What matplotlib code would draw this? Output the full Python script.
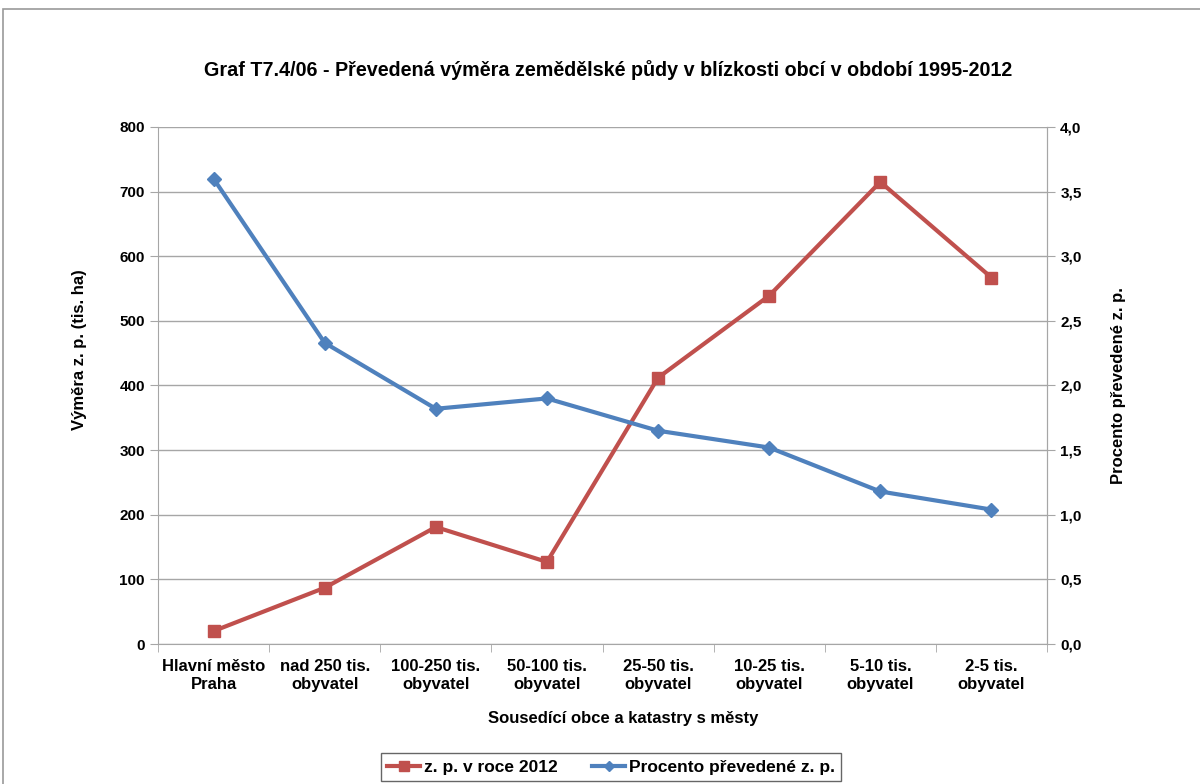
import numpy as np
import matplotlib.pyplot as plt
from matplotlib.patches import Rectangle

plt.rcParams['font.family'] = ['Liberation Sans', 'DejaVu Sans']
plt.rcParams['font.weight'] = 'bold'

categories = ["Hlavní město\nPraha", "nad 250 tis.\nobyvatel", "100-250 tis.\nobyvatel",
              "50-100 tis.\nobyvatel", "25-50 tis.\nobyvatel", "10-25 tis.\nobyvatel",
              "5-10 tis.\nobyvatel", "2-5 tis.\nobyvatel"]
vymera_2012 = [20, 87, 181, 127, 412, 539, 715, 567]
procento = [3.60, 2.33, 1.82, 1.90, 1.65, 1.52, 1.18, 1.04]

red = "#C0504D"
blue = "#4F81BD"
grid_c = "#A6A6A6"


def main():
    fig = plt.figure(figsize=(12, 7.84), dpi=100)
    fig.patches.append(Rectangle((0.0025, -0.01), 1.2, 0.998, transform=fig.transFigure,
                                 fill=False, edgecolor="#9A9A9A", linewidth=1.2))
    ax = fig.add_axes([158 / 1200, 1 - 644 / 784, (1047 - 158) / 1200, (644 - 127) / 784])
    ax2 = ax.twinx()

    x = np.arange(len(categories))
    l1, = ax.plot(x, vymera_2012, color=red, linewidth=3, marker="s", markersize=9,
                  label="z. p. v roce 2012", zorder=3)
    l2, = ax2.plot(x, procento, color=blue, linewidth=3, marker="D", markersize=7,
                   label="Procento převedené z. p.", zorder=3)

    ax.set_xlim(-0.5, len(categories) - 0.5)
    ax.set_ylim(0, 800)
    ax.set_yticks(np.arange(0, 801, 100))
    ax2.set_ylim(0, 4)
    ax2.set_yticks(np.arange(0, 4.01, 0.5))
    ax2.set_yticklabels([f"{v:.1f}".replace(".", ",") for v in np.arange(0, 4.01, 0.5)])

    ax.set_xticks(x)
    ax.set_xticklabels(categories, fontsize=12, fontweight="bold")
    ax.set_xticks(np.arange(-0.5, len(categories), 1), minor=True)
    ax.tick_params(axis="x", which="major", length=0, pad=11)
    ax.tick_params(axis="x", which="minor", length=6, color=grid_c)
    ax.tick_params(axis="y", length=6, color=grid_c, labelsize=11)
    ax2.tick_params(axis="y", length=6, color=grid_c, labelsize=11)
    for lab in ax.get_yticklabels() + ax2.get_yticklabels():
        lab.set_fontweight("bold")

    ax.grid(True, axis="y", color=grid_c, linewidth=1)
    ax.set_axisbelow(True)
    for a in (ax, ax2):
        a.spines["top"].set_visible(False)
        a.spines["left"].set_color(grid_c)
        a.spines["right"].set_color(grid_c)
        a.spines["bottom"].set_color(grid_c)
    ax2.spines["left"].set_visible(False)
    ax2.spines["bottom"].set_visible(False)

    # axis titles placed like in the Excel original
    ax.set_ylabel("Výměra z. p. (tis. ha)", fontsize=12, fontweight="bold", va="center")
    ax.yaxis.set_label_coords(-0.088, 0.569)
    ax2.set_ylabel("Procento převedené z. p.", fontsize=12, fontweight="bold", va="center")
    ax2.yaxis.set_label_coords(1.080, 0.5)
    ax.set_xlabel("Sousedící obce a katastry s městy", fontsize=12, fontweight="bold", va="center")
    ax.xaxis.set_label_coords(0.523, -0.145)

    fig.text(0.507, 1 - 70 / 784, "Graf T7.4/06 - Převedená výměra zemědělské půdy v blízkosti obcí v období 1995-2012",
             ha="center", va="center", fontsize=14.2, fontweight="bold")

    leg = fig.legend(handles=[l1, l2], loc="center", bbox_to_anchor=(611 / 1200, 1 - 767 / 784),
                     ncol=2, fontsize=12.5, frameon=True, fancybox=False, handlelength=1.9,
                     handletextpad=0.2, columnspacing=2.0, borderpad=0.35, markerscale=0.75)
    leg.get_frame().set_edgecolor("#404040")
    leg.get_frame().set_linewidth(1)
    for t in leg.get_texts():
        t.set_fontweight("bold")

    fig.savefig("out.png", dpi=100)


if __name__ == "__main__":
    main()
